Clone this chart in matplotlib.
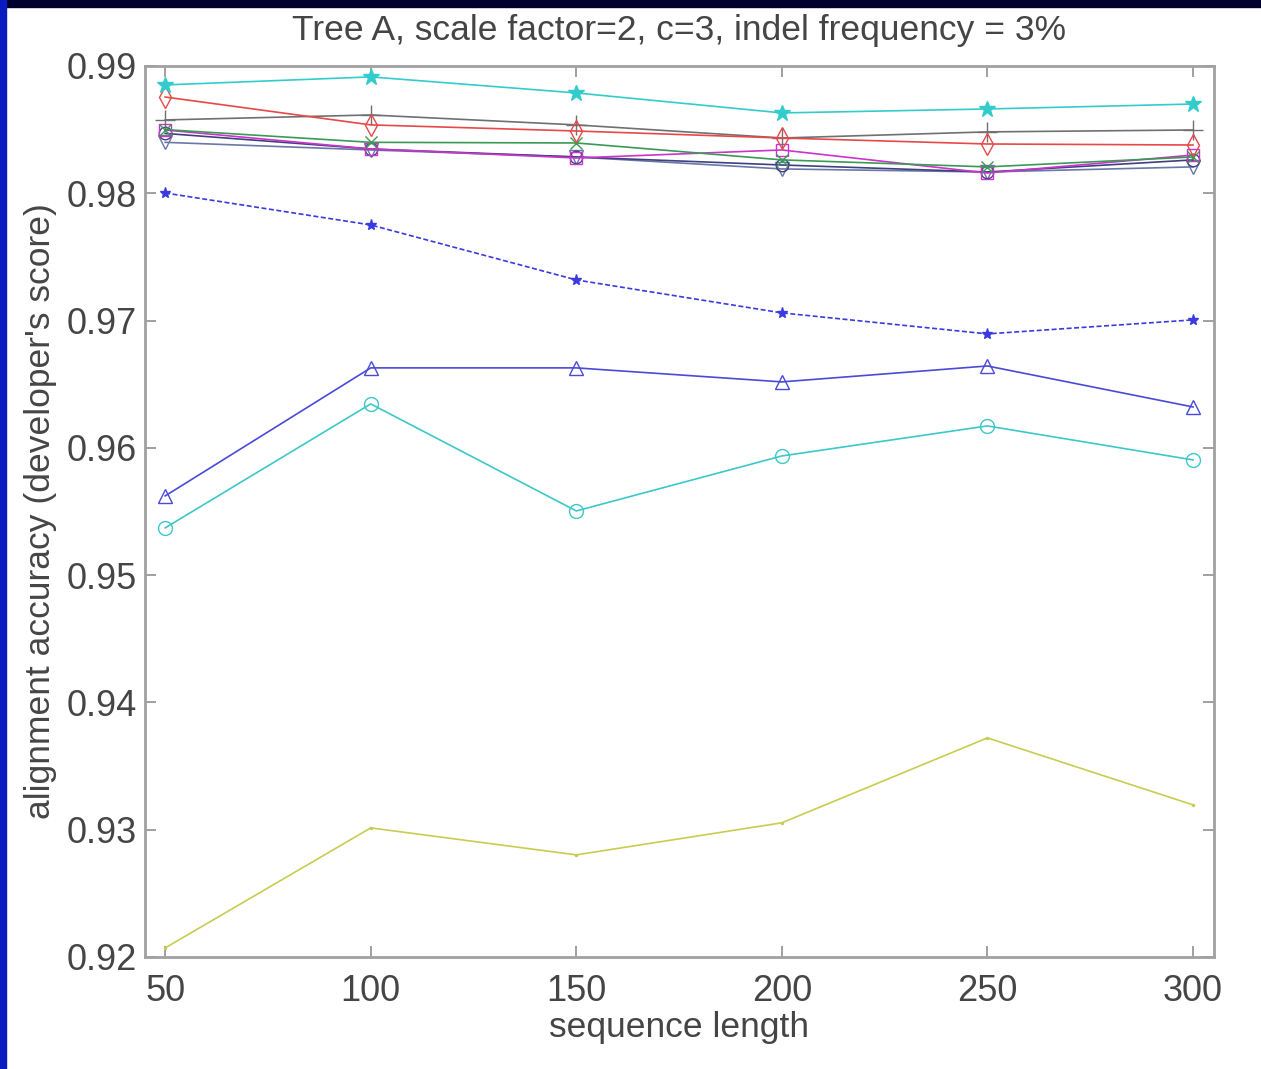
import matplotlib
matplotlib.use("Agg")
import matplotlib.pyplot as plt
from matplotlib.patches import Rectangle

plt.rcParams['font.family'] = ['Liberation Sans', 'DejaVu Sans']

seq_len = [50, 100, 150, 200, 250, 300]

cyan_star = [0.98851, 0.98914, 0.98788, 0.98631, 0.98662, 0.98701]
red_diamond = [0.98756, 0.98537, 0.98489, 0.98434, 0.98387, 0.98379]
gray_plus = [0.98576, 0.98615, 0.98537, 0.98434, 0.98482, 0.98497]
green_x = [0.98500, 0.98400, 0.98395, 0.98262, 0.98207, 0.98285]
magenta_sq = [0.98497, 0.98348, 0.98277, 0.98340, 0.98159, 0.98300]
navy_circle = [0.98470, 0.98348, 0.98285, 0.98222, 0.98167, 0.98262]
slate_tri = [0.98400, 0.98340, 0.98285, 0.98191, 0.98167, 0.98207]
blue_star = [0.98002, 0.97751, 0.97319, 0.97060, 0.96895, 0.97005]
blue_tri = [0.95622, 0.96628, 0.96628, 0.96518, 0.96643, 0.96321]
cyan_circle = [0.95371, 0.96345, 0.95504, 0.95936, 0.96172, 0.95905]
yellow_dot = [0.92071, 0.93014, 0.92802, 0.93054, 0.93721, 0.93195]

fig = plt.figure(figsize=(12.61, 10.69), dpi=100)
fig.patch.set_facecolor('white')
fig.patches.append(Rectangle((0, 1 - 7 / 1069), 1, 7 / 1069, transform=fig.transFigure,
                             color='#00002e', zorder=0))
fig.patches.append(Rectangle((0, 0), 6 / 1261, 1, transform=fig.transFigure,
                             color='#0a1bbf', zorder=0))

ax = fig.add_axes([0.115, 0.1048, 0.8477, 0.8335])

lw = 1.2
ax.plot(seq_len, yellow_dot, '-', color='#c8cc50', lw=lw, marker='.', ms=3)
ax.plot(seq_len, cyan_circle, '-', color='#3cc8c8', lw=lw, marker='o', ms=10, mfc='none')
ax.plot(seq_len, blue_tri, '-', color='#4a4ad8', lw=lw, marker='^', ms=10, mfc='none')
ax.plot(seq_len, blue_star, '--', color='#3a3ae0', lw=lw, marker='*', ms=8, dashes=(3, 1.5))
ax.plot(seq_len, slate_tri, '-', color='#6a78a8', lw=lw, marker='v', ms=10, mfc='none')
ax.plot(seq_len, navy_circle, '-', color='#404080', lw=lw, marker='o', ms=9, mfc='none')
ax.plot(seq_len, magenta_sq, '-', color='#cc33cc', lw=lw, marker='s', ms=9, mfc='none')
ax.plot(seq_len, green_x, '-', color='#3a9a55', lw=lw, marker='x', ms=8)
ax.plot(seq_len, gray_plus, '-', color='#707070', lw=lw, marker='+', ms=14)
ax.plot(seq_len, red_diamond, '-', color='#e84848', lw=lw, marker='d', ms=11, mfc='none')
ax.plot(seq_len, cyan_star, '-', color='#33cccc', lw=lw, marker='*', ms=12)

ax.set_xlim(45.1, 305.1)
ax.set_ylim(0.92, 0.99)
ax.set_xticks(seq_len)
ax.set_yticks([0.92, 0.93, 0.94, 0.95, 0.96, 0.97, 0.98, 0.99])
ax.set_yticklabels(['0.92', '0.93', '0.94', '0.95', '0.96', '0.97', '0.98', '0.99'])
ax.tick_params(direction='in', length=8, width=1.2, color='#909090', labelsize=26,
               labelcolor='#454545', top=True, right=True)
ax.tick_params(axis='x', pad=12)
ax.tick_params(axis='y', pad=6)
for s in ax.spines.values():
    s.set_color('#a0a0a0')
    s.set_linewidth(2)

ax.set_title('Tree A, scale factor=2, c=3, indel frequency = 3%', fontsize=25.5,
             color='#454545', pad=19)
ax.set_xlabel('sequence length', fontsize=25.5, color='#454545', labelpad=2)
ax.set_ylabel("alignment accuracy (developer's score)", fontsize=25.5, color='#454545',
              labelpad=7)

fig.savefig('out.png', dpi=100, facecolor=fig.get_facecolor())
